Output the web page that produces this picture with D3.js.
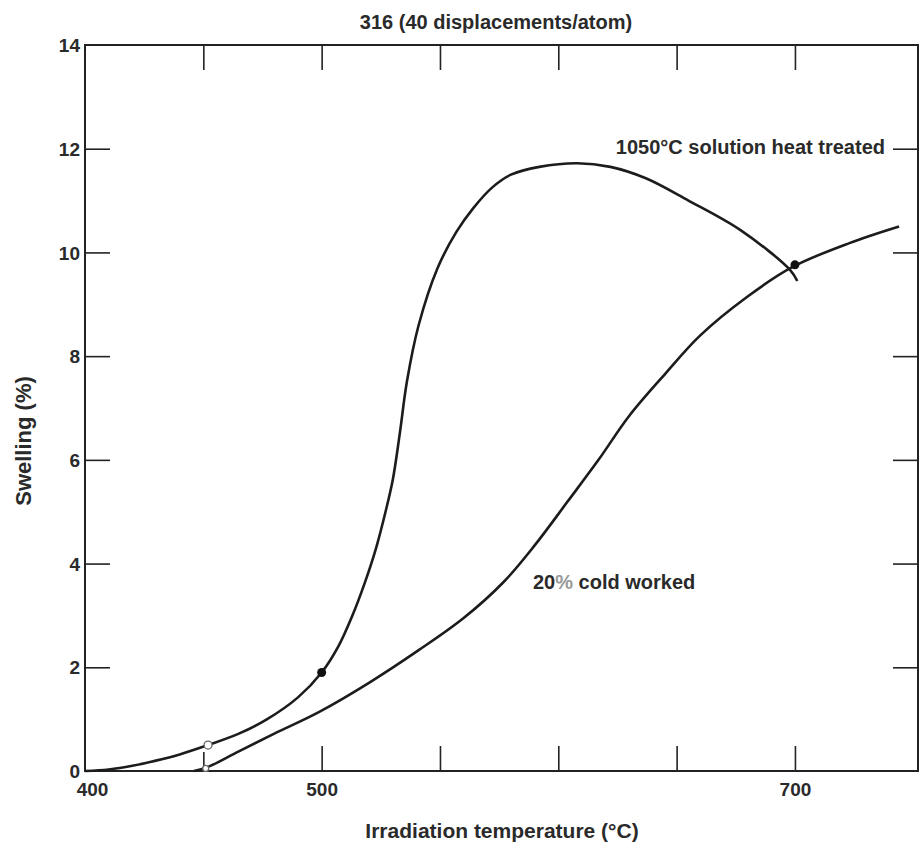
<!DOCTYPE html>
<html>
<head>
<meta charset="utf-8">
<script src="https://cdn.jsdelivr.net/npm/d3@7"></script>
<style>
  body { margin: 0; background: #fff; }
  text { font-family: "Liberation Sans", Arial, sans-serif; font-weight: bold; fill: #2a2a2a; }
</style>
</head>
<body>
<div id="chart"></div>
<script>
// data
let shtTemp  = [400, 410, 420, 430, 440, 452, 465, 477, 490, 500, 507, 513, 518, 523, 527, 530, 533, 536, 541, 549, 557, 564, 572, 580, 592, 608, 622, 637, 655, 677, 698, 701];
let shtSwell = [0, 0.03, 0.1, 0.2, 0.32, 0.5, 0.72, 1.0, 1.42, 1.9, 2.4, 3.0, 3.6, 4.3, 5.0, 5.6, 6.5, 7.5, 8.6, 9.7, 10.4, 10.85, 11.25, 11.5, 11.65, 11.72, 11.65, 11.43, 11.0, 10.43, 9.66, 9.45];

let cwTemp  = [446, 452, 465, 480, 499, 520, 541, 560, 577, 590, 604, 617, 630, 645, 660, 680, 699, 723, 744];
let cwSwell = [0, 0.08, 0.38, 0.72, 1.14, 1.7, 2.33, 2.95, 3.65, 4.35, 5.2, 6.0, 6.85, 7.65, 8.4, 9.15, 9.72, 10.18, 10.5];

// measured points
let filledTemp  = [500, 700];
let filledSwell = [1.9, 9.76];
let openTemp  = [452, 451];
let openSwell = [0.5, 0.05];

let xTicks = [400, 450, 500, 550, 600, 650, 700];
let xLabels = [400, 500, 700];
let yTicks = [0, 2, 4, 6, 8, 10, 12, 14];

let title = "316 (40 displacements/atom)";

// size
let margin = {top: 45, right: 2, bottom: 74, left: 85};
let width = 920, height = 845;
let innerWidth = width - margin.left - margin.right;
let innerHeight = height - margin.top - margin.bottom;

let x = d3.scaleLinear().domain([400, 752]).range([0, innerWidth]);
let y = d3.scaleLinear().domain([0, 14]).range([innerHeight, 0]);

let svg = d3.select("#chart").append("svg")
  .attr("width", width)
  .attr("height", height);

let g = svg.append("g")
  .attr("transform", "translate(" + margin.left + "," + margin.top + ")");

// frame
g.append("rect")
  .attr("width", innerWidth)
  .attr("height", innerHeight)
  .attr("fill", "none")
  .attr("stroke", "#222")
  .attr("stroke-width", 2);

// inward ticks
let tickFmt = d => xLabels.includes(d) ? d : "";
let xBottom = g.append("g")
  .attr("transform", "translate(0," + innerHeight + ")")
  .call(d3.axisBottom(x).tickValues(xTicks).tickSize(-25).tickPadding(12).tickFormat(tickFmt));
let xTop = g.append("g")
  .call(d3.axisTop(x).tickValues(xTicks.filter(d => d > 400)).tickSize(-25).tickFormat(""));
let yLeft = g.append("g")
  .call(d3.axisLeft(y).tickValues(yTicks).tickSize(-25).tickFormat(d => d));
let yRight = g.append("g")
  .attr("transform", "translate(" + innerWidth + ",0)")
  .call(d3.axisRight(y).tickValues(yTicks.filter(d => d > 0 && d < 14)).tickSize(-25).tickFormat(""));

[xBottom, xTop, yLeft, yRight].forEach(a => {
  a.select(".domain").remove();
  a.selectAll("line").attr("stroke", "#222").attr("stroke-width", 1.6);
  a.selectAll("text").attr("font-size", 19).attr("font-family", null).attr("fill", null);
  a.selectAll("text").filter(function() { return this.textContent == ""; }).remove();
});
// no tick marks at the corners, shorter one at 450
xBottom.selectAll(".tick").filter(d => d == 400).select("line").remove();
xBottom.selectAll(".tick").filter(d => d == 450).select("line").attr("y2", -19);
yLeft.selectAll(".tick").filter(d => d == 0 || d == 14).select("line").remove();
yLeft.selectAll(".tick text").attr("dy", "0.35em").attr("x", -5);
xBottom.selectAll(".tick").filter(d => d == 400).select("text").attr("x", 7);

// curves
let line = d3.line()
  .x(d => x(d[0]))
  .y(d => y(d[1]))
  .curve(d3.curveCatmullRom.alpha(0.5));

g.append("path")
  .datum(d3.zip(shtTemp, shtSwell))
  .attr("fill", "none")
  .attr("stroke", "#1c1c1c")
  .attr("stroke-width", 2.6)
  .attr("d", line);

g.append("path")
  .datum(d3.zip(cwTemp, cwSwell))
  .attr("fill", "none")
  .attr("stroke", "#1c1c1c")
  .attr("stroke-width", 2.6)
  .attr("d", line);

g.selectAll(".filled")
  .data(d3.zip(filledTemp, filledSwell))
  .join("circle")
  .attr("class", "filled")
  .attr("cx", d => x(d[0]))
  .attr("cy", d => y(d[1]))
  .attr("r", 4.5)
  .attr("fill", "#111");

g.selectAll(".open")
  .data(d3.zip(openTemp, openSwell))
  .join("circle")
  .attr("class", "open")
  .attr("cx", d => x(d[0]))
  .attr("cy", d => y(d[1]))
  .attr("r", (d, i) => i == 0 ? 4 : 3)
  .attr("fill", "#fff")
  .attr("stroke", "#666")
  .attr("stroke-width", 1.3);

// labels
svg.append("text")
  .attr("x", 496).attr("y", 29)
  .attr("text-anchor", "middle")
  .attr("font-size", 20)
  .text(title);

svg.append("text")
  .attr("x", 885).attr("y", 154)
  .attr("text-anchor", "end")
  .attr("font-size", 20)
  .text("1050°C solution heat treated");

let cw = svg.append("text")
  .attr("x", 533).attr("y", 589)
  .attr("font-size", 20);
cw.append("tspan").text("20");
cw.append("tspan").style("fill", "#999").text("%");
cw.append("tspan").text(" cold worked");

svg.append("text")
  .attr("x", 502).attr("y", 838)
  .attr("text-anchor", "middle")
  .attr("font-size", 21)
  .text("Irradiation temperature (°C)");

svg.append("text")
  .attr("transform", "translate(31,441) rotate(-90)")
  .attr("text-anchor", "middle")
  .attr("font-size", 22)
  .text("Swelling (%)");
</script>
</body>
</html>
